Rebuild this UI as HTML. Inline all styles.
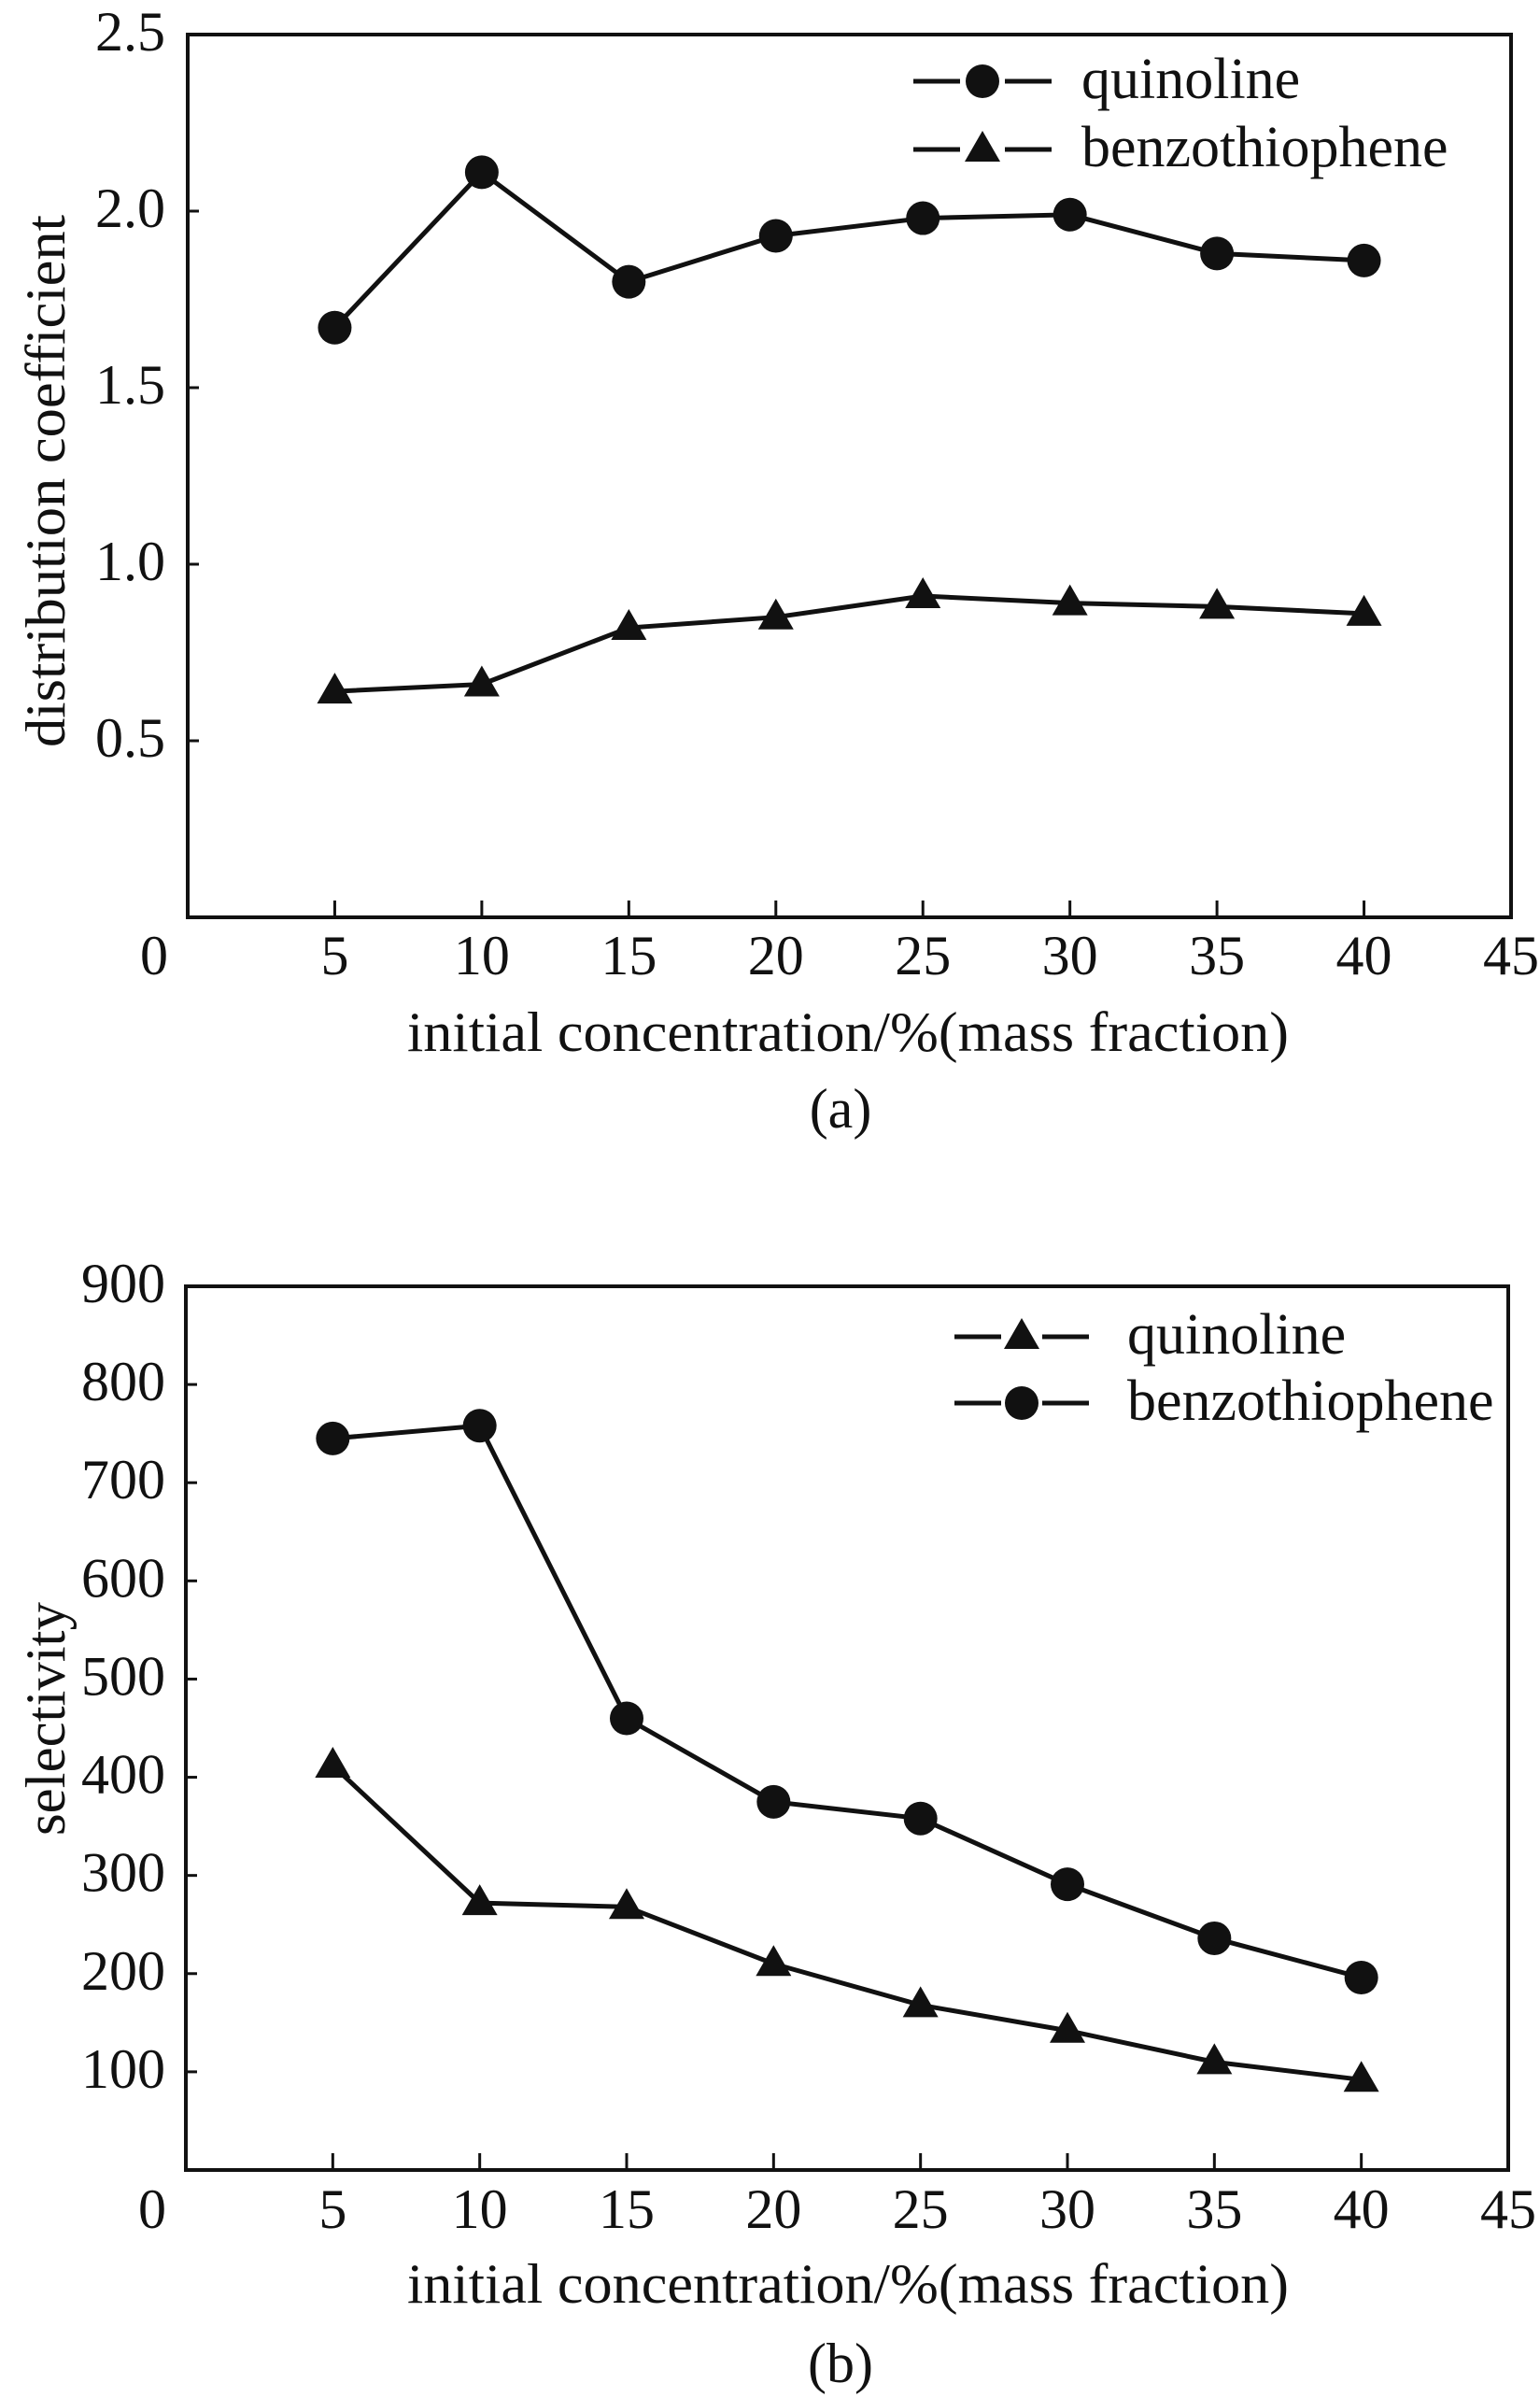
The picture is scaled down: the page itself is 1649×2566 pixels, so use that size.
<!DOCTYPE html>
<html><head><meta charset="utf-8"><style>
html,body{margin:0;padding:0;background:#fff;}
svg{display:block;}
text{font-family:"Liberation Serif",serif;fill:#111;}
</style></head>
<body>
<svg id="fig" width="1649" height="2566" viewBox="0 0 1649 2566"></svg>
<script>
const xCats = [5,10,15,20,25,30,35,40];
const xTicks = [0,5,10,15,20,25,30,35,40,45];
const aQuinoline = [1.67,2.11,1.80,1.93,1.98,1.99,1.88,1.86];
const aBenzo = [0.64,0.66,0.82,0.85,0.91,0.89,0.88,0.86];
const aYTicks = [0.5,1.0,1.5,2.0,2.5];
const aYLabels = ["0.5","1.0","1.5","2.0","2.5"];
const bQuinoline = [412,272,268,210,168,142,110,92];
const bBenzo = [745,758,460,375,358,291,236,196];
const bYTicks = [100,200,300,400,500,600,700,800,900];
const bYLabels = ["100","200","300","400","500","600","700","800","900"];

const NS="http://www.w3.org/2000/svg";
const svg=document.getElementById('fig');
function mk(tag,attrs,parent){const e=document.createElementNS(NS,tag);for(const k in attrs)e.setAttribute(k,attrs[k]);(parent||svg).appendChild(e);return e;}
function circle(g,x,y){return mk('circle',{cx:x,cy:y,r:18,fill:'#111'},g);}
function tri(g,x,y){return mk('polygon',{points:`${x},${y-20} ${x-19},${y+13} ${x+19},${y+13}`,fill:'#111'},g);}

function panel(o){
  const g=mk('g',{});
  
  
  const X=v=>o.L+(v-0)/45*(o.R-o.L);
  const Y=v=>o.B-(v-o.ymin)/(o.ymax-o.ymin)*(o.B-o.T);
  const frame=mk('rect',{x:o.L,y:o.T,width:o.R-o.L,height:o.B-o.T,fill:'none',stroke:'#111','stroke-width':4},g);
  
  
  xTicks.forEach(t=>{
    const x=X(t);
    if(t>0&&t<45){const tk=mk('line',{x1:x,y1:o.B,x2:x,y2:o.B-18,stroke:'#111','stroke-width':3},g);
      }
    const lx=t===0?x-36:x;
    const tx=mk('text',{x:lx,y:o.xlabY,'font-size':60,'text-anchor':'middle'},g);
    tx.textContent=String(t);
    
    
  });
  o.yt.forEach((t,i)=>{
    const y=Y(t);
    const tk=mk('line',{x1:o.L,y1:y,x2:o.L+12,y2:y,stroke:'#111','stroke-width':3},g);
    
    const tx=mk('text',{x:177,y:y+17,'font-size':60,'text-anchor':'end'},g);
    tx.textContent=o.yl[i];
    
    
  });
  const xt=mk('text',{x:908,y:o.xTitleY,'font-size':60,'text-anchor':'middle',textLength:944,lengthAdjust:'spacingAndGlyphs'},g);
  xt.textContent='initial concentration/%(mass fraction)';
  
  
  const cap=mk('text',{x:900,y:o.capY,'font-size':60,'text-anchor':'middle'},g);
  cap.textContent=o.cap;
  
  
  const yt=mk('text',{x:0,y:0,'font-size':60,'text-anchor':'middle',textLength:o.ytLen,lengthAdjust:'spacingAndGlyphs',transform:`translate(${o.ytX},${o.ytY}) rotate(-90)`},g);
  yt.textContent=o.ytitle;
  
  
  o.series.forEach(s=>{
    const sg=mk('g',{},g);
    
    
    const pts=s.data.map((v,i)=>`${X(xCats[i])},${Y(v)}`).join(' ');
    const pl=mk('polyline',{points:pts,fill:'none',stroke:'#111','stroke-width':5},sg);
    
    
    s.data.forEach((v,i)=>{
      const m=(s.marker==='c'?circle:tri)(sg,X(xCats[i]),Y(v));
      
      
    });
    const lg=mk('g',{},g);
    
    
    mk('line',{x1:o.lgX1,y1:s.ly,x2:o.lgX1+50,y2:s.ly,stroke:'#111','stroke-width':5},lg);
    mk('line',{x1:o.lgX2-50,y1:s.ly,x2:o.lgX2,y2:s.ly,stroke:'#111','stroke-width':5},lg);
    const mx=(o.lgX1+o.lgX2)/2;
    (s.marker==='c'?circle:tri)(lg,mx,s.ly);
    const lt=mk('text',{x:o.lgT,y:s.ly+18,'font-size':62},lg);
    lt.textContent=s.label;
  });
}

panel({name:'chart-a',L:201,R:1618,T:37,B:982,ymin:0,ymax:2.5,yt:aYTicks,yl:aYLabels,
  xlabY:1043,xTitleY:1125,capY:1207,cap:'(a)',ytitle:'distribution coefficient',ytX:69,ytY:515,ytLen:570,
  lgX1:978,lgX2:1126,lgT:1158,
  series:[{name:'series-quinoline',data:aQuinoline,marker:'c',label:'quinoline',ly:87},
          {name:'series-benzothiophene',data:aBenzo,marker:'t',label:'benzothiophene',ly:160}]});
panel({name:'chart-b',L:199,R:1615,T:1377,B:2323,ymin:0,ymax:900,yt:bYTicks,yl:bYLabels,
  xlabY:2385,xTitleY:2465,capY:2550,cap:'(b)',ytitle:'selectivity',ytX:69,ytY:1840,ytLen:250,
  lgX1:1022,lgX2:1166,lgT:1207,
  series:[{name:'series-quinoline',data:bQuinoline,marker:'t',label:'quinoline',ly:1431},
          {name:'series-benzothiophene',data:bBenzo,marker:'c',label:'benzothiophene',ly:1502}]});
</script>
</body></html>
